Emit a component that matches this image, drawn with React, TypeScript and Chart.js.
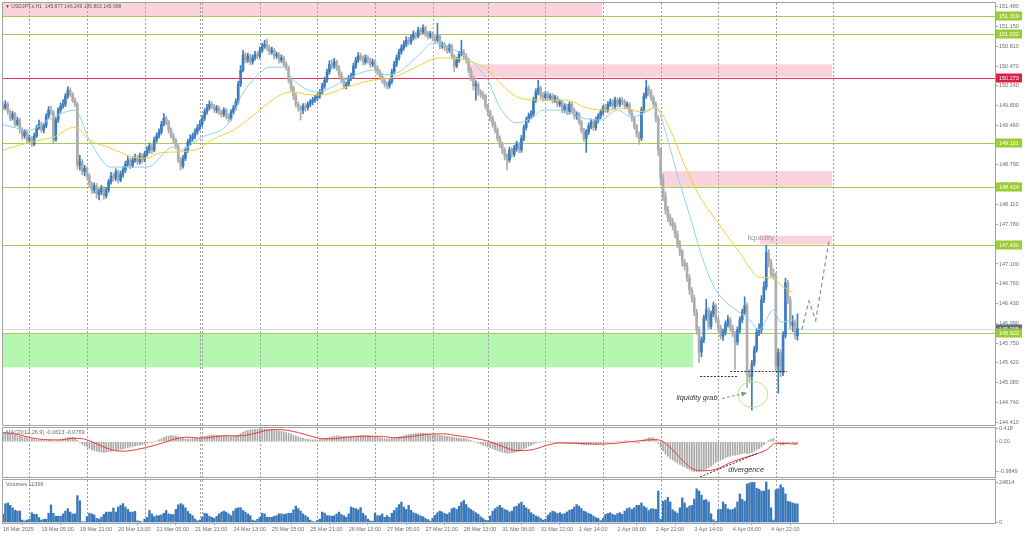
import React, { useEffect, useRef } from "react";
import { Chart, registerables } from "chart.js";

Chart.register(...registerables);

const FONT = "'Liberation Sans', Arial, Helvetica, sans-serif";
Chart.defaults.font.family = FONT;

// ---------------- texts ----------------
const symbolTitle = "\u25BC USDJPY.s,H1  145.877 146.249 145.803 145.998";
const macdTitle = "MACD(12,26,9) -0.0613 -0.0769";
const volumeTitle = "Volumes 11396";

// ---------------- price data (H1 bars, index = bar number) ----------------
const firstOpen = 149.8;
const closes = [
  149.76, 149.82, 149.69, 149.58, 149.65, 149.48, 149.55, 149.38, 149.28, 149.35,
  149.21, 149.24, 149.14, 149.28, 149.42, 149.48, 149.38, 149.45, 149.62, 149.72,
  149.69, 149.21, 149.55, 149.72, 149.79, 149.82, 149.96, 150.06, 149.99, 149.89,
  149.82, 148.78, 148.84, 148.67, 148.73, 148.60, 148.46, 148.36, 148.43, 148.29,
  148.33, 148.39, 148.26, 148.36, 148.50, 148.60, 148.56, 148.67, 148.53, 148.63,
  148.70, 148.80, 148.87, 148.77, 148.87, 148.90, 148.84, 148.94, 148.87, 148.97,
  149.04, 149.11, 149.04, 149.21, 149.28, 149.35, 149.48, 149.58, 149.52, 149.38,
  149.28, 149.21, 149.11, 148.87, 148.77, 148.90, 149.04, 149.18, 149.24, 149.28,
  149.35, 149.42, 149.48, 149.58, 149.69, 149.76, 149.82, 149.79, 149.72, 149.76,
  149.69, 149.65, 149.72, 149.62, 149.58, 149.69, 149.76, 149.86, 150.16, 150.40,
  150.66, 150.57, 150.64, 150.54, 150.61, 150.67, 150.64, 150.74, 150.81, 150.84,
  150.78, 150.71, 150.74, 150.64, 150.67, 150.57, 150.61, 150.50, 150.44, 150.23,
  150.10, 149.96, 149.82, 149.76, 149.72, 149.79, 149.76, 149.82, 149.86, 149.89,
  149.93, 149.96, 150.03, 150.13, 150.23, 150.37, 150.50, 150.47, 150.54, 150.44,
  150.33, 150.23, 150.13, 150.16, 150.27, 150.30, 150.47, 150.57, 150.64, 150.61,
  150.54, 150.61, 150.57, 150.50, 150.54, 150.44, 150.37, 150.30, 150.23, 150.16,
  150.13, 150.20, 150.37, 150.50, 150.61, 150.71, 150.78, 150.84, 150.91, 150.88,
  150.95, 151.02, 150.98, 151.08, 151.05, 151.12, 151.02, 150.98, 151.02, 150.95,
  150.91, 150.98, 150.81, 150.84, 150.78, 150.74, 150.81, 150.64, 150.47, 150.57,
  150.67, 150.71, 150.64, 150.57, 150.40, 150.27, 150.13, 150.16, 150.03, 149.99,
  149.96, 149.79, 149.69, 149.58, 149.48, 149.38, 149.24, 149.14, 149.04, 148.94,
  148.87, 149.04, 148.97, 149.07, 149.14, 149.04, 149.24, 149.42, 149.55, 149.62,
  149.65, 149.89, 150.03, 150.10, 149.96, 149.93, 149.99, 149.93, 149.96, 149.89,
  149.93, 149.82, 149.86, 149.72, 149.79, 149.69, 149.82, 149.72, 149.62, 149.65,
  149.52, 149.38, 149.24, 149.35, 149.45, 149.52, 149.42, 149.55, 149.62, 149.69,
  149.76, 149.72, 149.82, 149.86, 149.79, 149.89, 149.82, 149.89, 149.86, 149.79,
  149.82, 149.69, 149.58, 149.45, 149.31, 149.24, 149.72, 149.96, 150.10, 150.03,
  149.93, 149.82, 149.58, 149.04, 148.56, 148.26, 148.02, 147.89, 147.82, 147.75,
  147.61, 147.44, 147.31, 147.13, 147.07, 146.86, 146.66, 146.52, 146.28, 145.98,
  145.60, 145.81, 146.18, 146.32, 146.04, 146.25, 146.39, 146.15, 146.01, 145.87,
  145.94, 146.08, 146.15, 146.01, 145.91, 145.77, 145.98, 146.15, 146.28, 146.39,
  145.22, 145.18, 145.41, 145.64, 145.94, 145.98, 146.49, 146.71, 147.29, 147.13,
  146.93, 146.90, 145.36, 145.59, 145.25, 145.89, 146.78, 146.49, 146.06, 146.10, 145.877, 145.998,
];
const highs = [
  149.86, 149.88, 149.85, 149.72, 149.70, 149.68, 149.60, 149.58, 149.42, 149.39,
  149.37, 149.30, 149.27, 149.33, 149.46, 149.55, 149.52, 149.49, 149.66, 149.78,
  149.79, 149.71, 149.59, 149.76, 149.84, 149.90, 150.00, 150.12, 150.10, 150.02,
  149.93, 149.85, 148.95, 148.88, 148.78, 148.76, 148.64, 148.50, 148.48, 148.47,
  148.38, 148.44, 148.42, 148.40, 148.54, 148.66, 148.65, 148.72, 148.70, 148.68,
  148.76, 148.85, 148.93, 148.90, 148.92, 148.97, 148.95, 148.99, 148.98, 149.02,
  149.10, 149.16, 149.14, 149.26, 149.33, 149.40, 149.53, 149.66, 149.62, 149.55,
  149.42, 149.33, 149.24, 149.14, 148.92, 148.95, 149.08, 149.22, 149.30, 149.33,
  149.40, 149.47, 149.54, 149.63, 149.74, 149.82, 149.88, 149.86, 149.82, 149.80,
  149.79, 149.72, 149.76, 149.75, 149.66, 149.73, 149.80, 149.91, 150.21, 150.48,
  150.74, 150.70, 150.69, 150.67, 150.66, 150.72, 150.71, 150.79, 150.86, 150.91,
  150.93, 150.82, 150.79, 150.77, 150.71, 150.70, 150.66, 150.64, 150.54, 150.47,
  150.26, 150.13, 150.00, 149.86, 149.80, 149.83, 149.84, 149.86, 149.90, 149.94,
  149.97, 150.00, 150.07, 150.18, 150.28, 150.42, 150.56, 150.58, 150.60, 150.57,
  150.48, 150.37, 150.27, 150.20, 150.31, 150.35, 150.52, 150.62, 150.70, 150.69,
  150.65, 150.66, 150.65, 150.61, 150.59, 150.57, 150.48, 150.41, 150.34, 150.27,
  150.20, 150.25, 150.42, 150.55, 150.66, 150.76, 150.83, 150.90, 150.97, 150.96,
  151.00, 151.07, 151.05, 151.13, 151.12, 151.17, 151.15, 151.06, 151.06, 151.05,
  150.99, 151.20, 151.01, 150.88, 150.87, 150.82, 150.85, 150.84, 150.67, 150.62,
  150.72, 150.91, 150.75, 150.68, 150.60, 150.44, 150.31, 150.22, 150.19, 150.07,
  150.04, 149.99, 149.82, 149.72, 149.62, 149.52, 149.42, 149.28, 149.18, 149.08,
  148.98, 149.09, 149.08, 149.12, 149.19, 149.17, 149.29, 149.47, 149.60, 149.67,
  149.71, 149.94, 150.08, 150.23, 150.13, 150.02, 150.04, 150.03, 150.00, 150.00,
  149.97, 149.96, 149.90, 149.89, 149.83, 149.82, 149.86, 149.85, 149.76, 149.69,
  149.68, 149.55, 149.41, 149.39, 149.50, 149.57, 149.56, 149.60, 149.66, 149.73,
  149.80, 149.82, 149.86, 149.91, 149.90, 149.94, 149.93, 149.93, 149.94, 149.90,
  149.86, 149.85, 149.72, 149.62, 149.48, 149.35, 149.77, 150.01, 150.23, 150.14,
  150.07, 149.97, 149.86, 149.62, 149.08, 148.62, 148.33, 148.08, 147.95, 147.88,
  147.80, 147.66, 147.50, 147.35, 147.18, 147.12, 146.92, 146.70, 146.57, 146.33,
  146.03, 145.86, 146.23, 146.50, 146.36, 146.30, 146.45, 146.42, 146.20, 146.06,
  145.99, 146.13, 146.22, 146.19, 146.06, 145.95, 146.03, 146.20, 146.33, 146.54,
  146.44, 145.30, 145.46, 145.70, 146.00, 146.08, 146.56, 146.80, 147.42, 147.35,
  147.18, 147.02, 146.95, 145.66, 145.64, 145.95, 146.86, 146.82, 146.55, 146.22, 146.15, 146.249,
];
const lows = [
  149.72, 149.73, 149.65, 149.54, 149.55, 149.44, 149.45, 149.33, 149.22, 149.24,
  149.15, 149.17, 149.10, 149.11, 149.25, 149.39, 149.34, 149.33, 149.42, 149.58,
  149.64, 149.15, 149.19, 149.51, 149.68, 149.75, 149.78, 149.92, 149.95, 149.85,
  149.78, 148.72, 148.70, 148.62, 148.60, 148.55, 148.40, 148.30, 148.31, 148.22,
  148.19, 148.28, 148.20, 148.22, 148.32, 148.46, 148.51, 148.52, 148.48, 148.50,
  148.58, 148.66, 148.76, 148.72, 148.74, 148.83, 148.79, 148.80, 148.82, 148.84,
  148.93, 148.99, 148.98, 149.01, 149.17, 149.24, 149.31, 149.45, 149.47, 149.33,
  149.24, 149.16, 149.06, 148.83, 148.70, 148.73, 148.86, 149.00, 149.13, 149.19,
  149.23, 149.31, 149.38, 149.44, 149.54, 149.65, 149.72, 149.74, 149.68, 149.67,
  149.64, 149.60, 149.61, 149.57, 149.52, 149.55, 149.65, 149.72, 149.82, 150.12,
  150.37, 150.52, 150.53, 150.49, 150.50, 150.57, 150.59, 150.60, 150.70, 150.77,
  150.73, 150.66, 150.67, 150.59, 150.60, 150.52, 150.53, 150.46, 150.40, 150.18,
  150.04, 149.90, 149.77, 149.70, 149.55, 149.66, 149.70, 149.72, 149.78, 149.81,
  149.85, 149.88, 149.92, 149.99, 150.09, 150.19, 150.33, 150.42, 150.43, 150.39,
  150.28, 150.18, 150.08, 150.08, 150.12, 150.22, 150.26, 150.43, 150.53, 150.56,
  150.49, 150.50, 150.52, 150.45, 150.46, 150.39, 150.32, 150.25, 150.18, 150.11,
  150.08, 150.09, 150.17, 150.33, 150.46, 150.57, 150.67, 150.74, 150.80, 150.83,
  150.84, 150.91, 150.93, 150.95, 151.00, 151.02, 150.97, 150.93, 150.94, 150.90,
  150.86, 150.88, 150.76, 150.77, 150.73, 150.69, 150.70, 150.59, 150.37, 150.44,
  150.53, 150.64, 150.59, 150.52, 150.35, 150.22, 150.06, 149.89, 149.97, 149.93,
  149.90, 149.74, 149.63, 149.53, 149.43, 149.33, 149.19, 149.08, 148.98, 148.87,
  148.70, 148.83, 148.92, 148.93, 149.02, 148.99, 149.00, 149.20, 149.38, 149.51,
  149.57, 149.61, 149.85, 149.98, 149.91, 149.87, 149.88, 149.88, 149.89, 149.84,
  149.85, 149.77, 149.78, 149.67, 149.68, 149.64, 149.65, 149.67, 149.57, 149.56,
  149.47, 149.33, 149.19, 149.00, 149.30, 149.40, 149.37, 149.38, 149.50, 149.57,
  149.64, 149.68, 149.68, 149.78, 149.74, 149.75, 149.77, 149.78, 149.81, 149.74,
  149.75, 149.64, 149.53, 149.40, 149.26, 149.14, 149.20, 149.68, 149.92, 149.97,
  149.88, 149.77, 149.52, 148.95, 148.45, 148.18, 147.95, 147.82, 147.75, 147.68,
  147.55, 147.38, 147.24, 147.06, 147.00, 146.80, 146.58, 146.45, 146.22, 145.90,
  145.42, 145.52, 145.76, 146.14, 145.99, 146.00, 146.20, 146.10, 145.95, 145.82,
  145.80, 145.89, 146.03, 145.96, 145.86, 145.30, 145.72, 145.93, 146.10, 146.24,
  145.00, 145.08, 144.61, 145.36, 145.60, 145.88, 145.92, 146.44, 146.66, 147.05,
  146.88, 146.84, 145.28, 144.90, 145.18, 145.20, 145.84, 146.42, 146.00, 145.95, 145.82, 145.803,
];
const volumes = [
  5000, 11500, 12000, 10500, 9000, 7500, 7000, 7000, 1500, 1000,
  1500, 2000, 6000, 5000, 5000, 3000, 1500, 2000, 2000, 5700,
  10800, 5700, 3800, 3800, 3800, 5300, 7000, 8500, 6400, 5300,
  5300, 16500, 13300, 500, 500, 3600, 5700, 5300, 4700, 2500,
  2100, 3200, 4900, 6400, 6400, 6400, 8900, 6400, 9500, 10600,
  11600, 9500, 8000, 6400, 6400, 6800, 1000, 800, 300, 2100,
  3100, 7400, 5300, 3600, 4200, 4200, 4700, 5700, 7400, 5300,
  4900, 4900, 8000, 10800, 11600, 10800, 9000, 6800, 5300, 4200,
  2100, 1000, 1500, 3200, 5700, 5300, 3800, 3200, 2500, 3800,
  5300, 6400, 7000, 6400, 5300, 4200, 7000, 8500, 9000, 9100,
  7400, 6400, 5300, 4200, 1500, 1000, 2000, 3200, 5700, 5300,
  3200, 3200, 3200, 3800, 4200, 5300, 5300, 4900, 5300, 5700,
  5700, 7800, 10000, 8500, 7000, 5300, 4200, 3200, 1500, 600,
  300, 1500, 2100, 6400, 5700, 4200, 4200, 3800, 4200, 5300,
  6400, 4900, 4200, 3200, 5300, 9500, 8900, 8500, 7800, 9100,
  5700, 4200, 2100, 1000, 800, 5700, 4200, 4200, 5300, 3200,
  4200, 3200, 5700, 7400, 9000, 11000, 12500, 9500, 8000, 10500,
  7500, 6000, 5500, 4800, 4000, 3500, 2500, 1800, 900, 2500,
  4500, 6000, 7000, 6500, 5500, 5000, 6000, 8500, 9000, 8000,
  10000, 12500, 13500, 11000, 9000, 8000, 7000, 6000, 5000, 3500,
  2500, 1500, 1200, 4000, 7000, 8500, 9500, 10500, 9000, 8000,
  7500, 6500, 7000, 9500, 10000, 11500, 12500, 10500, 9000, 8000,
  6000, 5000, 4000, 3500, 2500, 1500, 2000, 4500, 6000, 7000,
  6500, 5500, 6000, 5000, 5500, 6500, 7500, 8000, 9500, 11000,
  10000, 8500, 7000, 6500, 5500, 5000, 4000, 3000, 2500, 1200,
  2500, 5000, 5500, 6000, 5000, 4500, 5500, 6000, 5000, 7000,
  8500, 9000, 8000, 9000, 10500, 10500, 12000, 9900, 9000, 7400,
  8400, 8400, 8000, 19300, 2100, 13000, 13700, 15400, 12600, 7800,
  6700, 5700, 9000, 15100, 12000, 9000, 10100, 10500, 14300, 20600,
  19300, 16800, 13700, 14000, 12600, 5300, 1700, 800, 7800, 8000,
  12600, 11100, 8400, 7800, 8000, 9000, 12600, 17500, 14100, 13000,
  23600, 24200, 24600, 24500, 21000, 20400, 19300, 19300, 24814, 20000,
  9000, 1500, 20000, 20600, 23100, 21400, 17500, 13000, 12600, 12000, 11500, 11396,
];
const macdMain = [
  0.30, 0.29, 0.27, 0.26, 0.24, 0.22, 0.20, 0.18, 0.16,
  0.14, 0.12, 0.10, 0.08, 0.07, 0.06, 0.05, 0.05, 0.04, 0.04, 0.05, 0.06,
  0.02, 0.03, 0.05, 0.07, 0.09,
  0.11, 0.13, 0.15, 0.15, 0.14, 0.05,
  -0.02, -0.08, -0.13, -0.18, -0.22, -0.26, -0.29, -0.31, -0.33, -0.34, -0.35, -0.34, -0.33, -0.32,
  -0.30, -0.28, -0.27, -0.25, -0.23, -0.21, -0.19, -0.17, -0.15, -0.14, -0.12, -0.11, -0.09,
  -0.07, -0.05, -0.03, -0.02, 0.00, 0.03, 0.06, 0.10,
  0.14, 0.17, 0.19, 0.20, 0.20, 0.19, 0.16, 0.12,
  0.10, 0.09, 0.09, 0.09, 0.10, 0.11, 0.12, 0.13, 0.15, 0.17,
  0.19, 0.21, 0.22, 0.22, 0.22, 0.21, 0.20, 0.19, 0.18, 0.17, 0.17, 0.18, 0.19,
  0.22, 0.27, 0.32, 0.35, 0.37, 0.39, 0.40, 0.41, 0.41, 0.42, 0.42, 0.42, 0.41,
  0.40, 0.39, 0.38, 0.37, 0.35, 0.34, 0.32, 0.30, 0.28, 0.25, 0.22, 0.19, 0.16, 0.13,
  0.11, 0.09, 0.08, 0.07, 0.06, 0.06, 0.06, 0.07, 0.08, 0.10, 0.12, 0.14, 0.16, 0.18, 0.19, 0.19,
  0.18, 0.17, 0.16, 0.16, 0.16, 0.17, 0.18, 0.19, 0.20, 0.20, 0.20, 0.20, 0.19, 0.18, 0.17, 0.16, 0.14, 0.12, 0.10, 0.09,
  0.09, 0.10, 0.12, 0.14, 0.16, 0.18, 0.20, 0.22, 0.24, 0.25, 0.26, 0.27, 0.28, 0.28, 0.28, 0.27, 0.26, 0.25, 0.24, 0.23, 0.22, 0.21, 0.20, 0.19, 0.18,
  0.17, 0.16, 0.14, 0.13, 0.12, 0.11, 0.10, 0.09, 0.07, 0.04, 0.01, -0.02, -0.05, -0.08, -0.11,
  -0.14, -0.17, -0.20, -0.23, -0.26, -0.29, -0.32, -0.34, -0.36, -0.37, -0.37, -0.36, -0.35, -0.33, -0.31,
  -0.27, -0.23, -0.19, -0.15, -0.11, -0.07, -0.04, -0.02, -0.01, 0.00, 0.00, 0.00, -0.01, -0.01, -0.02,
  -0.03, -0.03, -0.04, -0.04, -0.05, -0.05, -0.05, -0.06, -0.07, -0.08, -0.09, -0.10, -0.10, -0.10, -0.09, -0.09, -0.08, -0.07, -0.06, -0.05,
  -0.04, -0.03, -0.02, -0.01, 0.00, 0.01, 0.02, 0.02, 0.03, 0.03, 0.02, 0.01, -0.01, -0.03, -0.04,
  0.02, 0.06, 0.10, 0.13, 0.14, 0.13,
  0.08, -0.05, -0.18, -0.30, -0.40, -0.48, -0.55, -0.60, -0.65, -0.70, -0.74, -0.79, -0.83, -0.87, -0.91, -0.95, -0.9849, -0.98, -0.97,
  -0.96, -0.94, -0.90, -0.85, -0.80, -0.74, -0.68, -0.64, -0.60, -0.56, -0.52, -0.49, -0.47, -0.45, -0.44, -0.42, -0.41, -0.39, -0.37, -0.38,
  -0.38, -0.35, -0.31, -0.27, -0.23, -0.17, -0.10, -0.02, 0.04, 0.08, 0.10,
  0.02, -0.07, -0.10, -0.10, -0.08, -0.04, -0.03, -0.05, -0.08, -0.06,
];
const signalIdx = [0, 6, 11, 17, 23, 29, 33, 37, 42, 46, 50, 56, 62, 67, 72, 77, 82, 88, 93, 98, 103, 108, 113, 118, 123, 128, 133, 138, 143, 150, 157, 163, 170, 176, 183, 190, 196, 202, 208, 214, 220, 226, 232, 240, 247, 254, 260, 265, 271, 274, 279, 283, 287, 292, 297, 304, 311, 318, 322, 326, 331];
const signalVal = [0.30, 0.24, 0.14, 0.07, 0.06, 0.11, 0.10, 0.00, -0.17, -0.28, -0.31, -0.25, -0.14, -0.03, 0.10, 0.15, 0.12, 0.16, 0.20, 0.19, 0.24, 0.34, 0.40, 0.38, 0.30, 0.19, 0.10, 0.10, 0.15, 0.18, 0.18, 0.13, 0.17, 0.24, 0.26, 0.19, 0.12, 0.02, -0.15, -0.29, -0.27, -0.13, -0.04, -0.05, -0.08, -0.06, -0.01, 0.03, 0.07, 0.04, -0.27, -0.60, -0.87, -0.95, -0.90, -0.65, -0.47, -0.27, -0.05, -0.06, -0.077];
const maFastIdx = [0, 11, 20, 30, 36, 45, 60, 71, 74, 82, 95, 99, 107, 111, 117, 121, 131, 137, 145, 154, 160, 165, 174, 179, 186, 193, 202, 207, 214, 221, 225, 232, 242, 249, 256, 262, 268, 272, 277, 281, 286, 292, 297, 307, 311, 315, 321, 324, 329];
const maFastVal = [149.47, 149.38, 149.58, 149.72, 149.21, 148.75, 148.75, 149.09, 149.04, 149.24, 149.55, 149.94, 150.35, 150.45, 150.45, 150.23, 150.03, 150.11, 150.28, 150.40, 150.32, 150.37, 150.69, 150.86, 150.78, 150.62, 150.23, 149.77, 149.50, 149.60, 149.72, 149.72, 149.58, 149.55, 149.72, 149.60, 149.69, 149.76, 149.21, 148.61, 147.94, 147.13, 146.66, 146.27, 146.15, 145.98, 146.32, 146.11, 146.15];
const maSlowIdx = [0, 12, 21, 30, 36, 45, 54, 60, 65, 74, 82, 87, 96, 107, 114, 120, 128, 133, 143, 154, 162, 172, 182, 193, 202, 207, 215, 224, 235, 243, 252, 260, 265, 272, 278, 284, 290, 297, 307, 315, 321, 325, 329];
const maSlowVal = [149.04, 149.18, 149.26, 149.43, 149.21, 149.07, 148.92, 148.90, 148.99, 149.01, 149.07, 149.21, 149.38, 149.72, 149.94, 150.03, 149.98, 149.98, 150.11, 150.23, 150.27, 150.45, 150.61, 150.57, 150.40, 150.18, 149.93, 149.89, 149.89, 149.76, 149.72, 149.76, 149.69, 149.76, 149.38, 148.78, 148.27, 147.85, 147.29, 146.88, 146.86, 146.71, 146.62];
const projIdx = [332.8, 335.8, 338.6, 344.2];
const projVal = [145.98, 146.47, 146.14, 147.51];

// ---------------- axes / ticks ----------------
const timeLabelIdx = [0, 16, 32, 48, 64, 80, 96, 112, 128, 144, 160, 176, 192, 208, 224, 240, 256, 272, 288, 304, 320];
const timeLabels = ["18 Mar 2025", "19 Mar 05:00", "19 Mar 21:00", "20 Mar 13:00", "21 Mar 05:00", "21 Mar 21:00", "24 Mar 13:00", "25 Mar 05:00", "25 Mar 21:00", "26 Mar 13:00", "27 Mar 05:00", "27 Mar 21:00", "28 Mar 13:00", "31 Mar 06:00", "31 Mar 22:00", "1 Apr 14:00", "2 Apr 06:00", "2 Apr 22:00", "3 Apr 14:00", "4 Apr 06:00", "4 Apr 22:00"];
const daySeparatorIdx = [11, 35, 59, 82, 83, 107, 131, 155, 179, 202, 226, 250, 274, 298, 322, 346];
const priceTicks = [151.48, 151.15, 150.81, 150.47, 150.14, 149.8, 149.46, 149.12, 148.79, 148.45, 148.11, 147.78, 147.44, 147.1, 146.76, 146.43, 146.09, 145.75, 145.42, 145.08, 144.74, 144.41];
const macdTicks = [0.418, 0, -0.9849];
const volumeTicks = [24814, 0];

// ---------------- drawn levels & zones (bar index / price units) ----------------
const levelPrices = [151.319, 151.022, 150.273, 149.161, 148.414, 147.43, 145.923];
const levelIsRed = [false, false, true, false, false, false, false];
const currentPrice = 145.998;
const zoneFrom = [0, 193.8, 273.75, 315.4, 0];
const zoneTo = [249.6, 345.4, 345.4, 345.4, 287.4];
const zoneHigh = [151.6, 150.5, 148.68, 147.58, 145.923];
const zoneLow = [151.319, 150.28, 148.414, 147.435, 145.34];
const zoneIsDemand = [false, false, false, false, true];
const sweepFrom = [290.4, 303.0];
const sweepTo = [305.8, 326.7];
const sweepPrice = [145.2, 145.28];

const X_MIN = 0;
const X_MAX = 413.3;

const STYLE = {
  bull: "#3d7cbd",
  bear: "#acacac",
  maFast: "#8fd0f3",
  maSlow: "#f2cf3e",
  level: "#a5ce4c",
  levelRed: "#e0365a",
  levelBox: "#9acd32",
  levelBoxRed: "#dc1f45",
  curLine: "#d8d8f0",
  curBox: "#5f6f85",
  pink: "#fbd3dc",
  green: "#b4f6b0",
  sep: "#a0a0a0",
  frame: "#a3a3a3",
  tick: "#6f6f6f",
  vol: "#3a78b9",
  hist: "#a8a8a8",
  signal: "#ee3a3a",
  proj: "#7f90b0",
  note: "#333333",
  noteLight: "#9a9a9a",
  circle: "#c5e08a",
};

function drawSeparators(chart: any) {
  const { ctx, chartArea: a } = chart;
  const xs = chart.scales.x;
  ctx.save();
  ctx.strokeStyle = STYLE.sep;
  ctx.lineWidth = 1;
  ctx.setLineDash([2, 2]);
  daySeparatorIdx.forEach((v) => {
    const px = Math.round(xs.getPixelForValue(v)) + 0.5;
    if (px < a.left || px > a.right) return;
    ctx.beginPath();
    ctx.moveTo(px, a.top);
    ctx.lineTo(px, a.bottom);
    ctx.stroke();
  });
  ctx.restore();
}

function drawFrame(chart: any) {
  const { ctx, chartArea: a } = chart;
  ctx.save();
  ctx.strokeStyle = STYLE.frame;
  ctx.lineWidth = 1;
  ctx.strokeRect(a.left - 0.5, a.top - 0.5, a.right - a.left + 1, a.bottom - a.top + 1);
  ctx.restore();
}

function panelTitle(chart: any, text: string) {
  const { ctx, chartArea: a } = chart;
  ctx.save();
  ctx.fillStyle = "#6a6a6a";
  ctx.font = `5.5px ${FONT}`;
  ctx.textBaseline = "middle";
  ctx.textAlign = "left";
  ctx.fillText(text, a.left + 3, a.top + 4);
  ctx.restore();
}

function priceBox(ctx: any, x: number, y: number, text: string, bg: string) {
  const yy = Math.round(y);
  ctx.fillStyle = bg;
  ctx.fillRect(x, yy - 4.5, 26, 9);
  ctx.fillStyle = "#ffffff";
  ctx.font = `5.5px ${FONT}`;
  ctx.textBaseline = "middle";
  ctx.textAlign = "left";
  ctx.fillText(text, x + 3, yy);
}

function rightAxis(width: number, ticks: number[], fmt: (v: number) => string, min: number, max: number) {
  return {
    type: "linear",
    position: "right",
    min,
    max,
    afterFit: (s: any) => {
      s.width = width;
      s.paddingTop = 0;
      s.paddingBottom = 0;
    },
    afterBuildTicks: (s: any) => {
      s.ticks = ticks.map((v) => ({ value: v }));
    },
    ticks: {
      autoSkip: false,
      callback: (v: any) => fmt(Number(v)),
      font: { size: 5.5, family: FONT },
      color: STYLE.tick,
      padding: 1,
    },
    grid: { display: true, drawOnChartArea: false, drawTicks: true, tickLength: 3, color: STYLE.frame },
    border: { display: true, color: STYLE.frame },
  };
}

const hiddenX = { type: "linear", min: X_MIN, max: X_MAX, display: false, offset: false };

export default function App() {
  const mainRef = useRef<HTMLCanvasElement>(null);
  const macdRef = useRef<HTMLCanvasElement>(null);
  const volRef = useRef<HTMLCanvasElement>(null);

  useEffect(() => {
    const charts: any[] = [];
    const N = closes.length;

    const bodies: any[] = [];
    const wicks: any[] = [];
    const candleColors: string[] = [];
    for (let i = 0; i < N; i++) {
      const o = i === 0 ? firstOpen : closes[i - 1];
      const c = closes[i];
      const h = Math.max(highs[i] ?? c, o, c);
      const l = Math.min(lows[i] ?? c, o, c);
      bodies.push({ x: i, y: [o, c] });
      wicks.push({ x: i, y: [l, h] });
      candleColors.push(c >= o ? STYLE.bull : STYLE.bear);
    }

    const common = {
      responsive: false,
      animation: false,
      devicePixelRatio: 1,
      events: [],
      plugins: { legend: { display: false }, tooltip: { enabled: false } },
    };

    // ---------- main price chart ----------
    const mainPlugin = {
      id: "mainDecor",
      beforeDatasetsDraw(chart: any) {
        const { ctx, chartArea: a } = chart;
        const xs = chart.scales.x;
        const ys = chart.scales.y;
        ctx.save();
        ctx.beginPath();
        ctx.rect(a.left, a.top, a.right - a.left, a.bottom - a.top);
        ctx.clip();
        for (let k = 0; k < zoneFrom.length; k++) {
          const x0 = xs.getPixelForValue(zoneFrom[k]);
          const x1 = xs.getPixelForValue(zoneTo[k]);
          const y0 = ys.getPixelForValue(zoneHigh[k]);
          const y1 = ys.getPixelForValue(zoneLow[k]);
          ctx.fillStyle = zoneIsDemand[k] ? STYLE.green : STYLE.pink;
          ctx.fillRect(x0, y0, x1 - x0, y1 - y0);
        }
        const cy = Math.round(ys.getPixelForValue(currentPrice)) + 0.5;
        ctx.strokeStyle = STYLE.curLine;
        ctx.lineWidth = 1;
        ctx.beginPath();
        ctx.moveTo(a.left, cy);
        ctx.lineTo(a.right, cy);
        ctx.stroke();
        levelPrices.forEach((p, k) => {
          const y = Math.round(ys.getPixelForValue(p)) + 0.5;
          ctx.strokeStyle = levelIsRed[k] ? STYLE.levelRed : STYLE.level;
          ctx.beginPath();
          ctx.moveTo(a.left, y);
          ctx.lineTo(a.right, y);
          ctx.stroke();
        });
        ctx.restore();
        drawSeparators(chart);
      },
      afterDatasetsDraw(chart: any) {
        const { ctx } = chart;
        const xs = chart.scales.x;
        const ys = chart.scales.y;
        const X = (v: number) => xs.getPixelForValue(v);
        const Y = (v: number) => ys.getPixelForValue(v);
        ctx.save();
        // sweep levels
        ctx.strokeStyle = STYLE.note;
        ctx.lineWidth = 1;
        ctx.setLineDash([2, 1.5]);
        for (let k = 0; k < sweepFrom.length; k++) {
          const y = Math.round(Y(sweepPrice[k])) + 0.5;
          ctx.beginPath();
          ctx.moveTo(X(sweepFrom[k]), y);
          ctx.lineTo(X(sweepTo[k]), y);
          ctx.stroke();
        }
        // circle around the grab
        ctx.setLineDash([]);
        ctx.strokeStyle = STYLE.circle;
        ctx.beginPath();
        ctx.ellipse(X(312.4), Y(144.88), 15, 13, 0, 0, Math.PI * 2);
        ctx.stroke();
        // arrow
        const ax0 = X(299.6), ay0 = Y(144.81), ax1 = X(309.3), ay1 = Y(144.9);
        ctx.strokeStyle = STYLE.proj;
        ctx.setLineDash([3, 2]);
        ctx.beginPath();
        ctx.moveTo(ax0, ay0);
        ctx.lineTo(ax1, ay1);
        ctx.stroke();
        ctx.setLineDash([]);
        const ang = Math.atan2(ay1 - ay0, ax1 - ax0);
        ctx.fillStyle = STYLE.proj;
        ctx.beginPath();
        ctx.moveTo(ax1 + 2, ay1 + 2 * Math.tan(ang));
        ctx.lineTo(ax1 - 4 * Math.cos(ang) + 2.5 * Math.sin(ang), ay1 - 4 * Math.sin(ang) - 2.5 * Math.cos(ang));
        ctx.lineTo(ax1 - 4 * Math.cos(ang) - 2.5 * Math.sin(ang), ay1 - 4 * Math.sin(ang) + 2.5 * Math.cos(ang));
        ctx.closePath();
        ctx.fill();
        // texts
        ctx.textBaseline = "middle";
        ctx.textAlign = "left";
        ctx.fillStyle = STYLE.noteLight;
        ctx.font = `8px ${FONT}`;
        ctx.fillText("liquidity", X(310.2), Y(147.54));
        ctx.fillStyle = STYLE.note;
        ctx.font = `italic 7.3px ${FONT}`;
        ctx.fillText("liquidity grab", X(280.6), Y(144.82));
        ctx.restore();
      },
      afterDraw(chart: any) {
        const { ctx, chartArea: a } = chart;
        const ys = chart.scales.y;
        drawFrame(chart);
        ctx.save();
        priceBox(ctx, a.right + 1, ys.getPixelForValue(currentPrice), currentPrice.toFixed(3), STYLE.curBox);
        levelPrices.forEach((p, k) => {
          priceBox(ctx, a.right + 1, ys.getPixelForValue(p), p.toFixed(3), levelIsRed[k] ? STYLE.levelBoxRed : STYLE.levelBox);
        });
        ctx.fillStyle = "#5a5a5a";
        ctx.font = `5px ${FONT}`;
        ctx.textBaseline = "middle";
        ctx.textAlign = "left";
        ctx.fillText(symbolTitle, a.left + 2, a.top + 4);
        ctx.restore();
      },
    };

    if (mainRef.current) {
      charts.push(
        new Chart(mainRef.current, {
          type: "bar",
          data: {
            datasets: [
              {
                type: "line",
                data: maSlowIdx.map((x, k) => ({ x, y: maSlowVal[k] })),
                borderColor: STYLE.maSlow,
                borderWidth: 1,
                pointRadius: 0,
                cubicInterpolationMode: "monotone",
                order: 0,
              },
              {
                type: "line",
                data: maFastIdx.map((x, k) => ({ x, y: maFastVal[k] })),
                borderColor: STYLE.maFast,
                borderWidth: 1,
                pointRadius: 0,
                cubicInterpolationMode: "monotone",
                order: 0,
              },
              {
                type: "line",
                data: projIdx.map((x, k) => ({ x, y: projVal[k] })),
                borderColor: STYLE.proj,
                borderWidth: 1.2,
                borderDash: [4, 3],
                pointRadius: 0,
                order: 0,
              },
              {
                type: "bar",
                data: bodies,
                backgroundColor: candleColors,
                barThickness: 2,
                grouped: false,
                minBarLength: 1,
                order: 1,
              },
              {
                type: "bar",
                data: wicks,
                backgroundColor: candleColors,
                barThickness: 1,
                grouped: false,
                order: 2,
              },
            ],
          } as any,
          options: {
            ...common,
            layout: { padding: { left: 3, right: 0, top: 3, bottom: 1 } },
            scales: {
              x: hiddenX,
              y: rightAxis(29, priceTicks, (v) => v.toFixed(3), 144.359, 151.543),
            },
          } as any,
          plugins: [mainPlugin],
        })
      );
    }

    // ---------- MACD ----------
    const macdPlugin = {
      id: "macdDecor",
      beforeDatasetsDraw(chart: any) {
        drawSeparators(chart);
      },
      afterDatasetsDraw(chart: any) {
        const { ctx } = chart;
        const xs = chart.scales.x;
        const ys = chart.scales.y;
        ctx.save();
        ctx.strokeStyle = STYLE.note;
        ctx.lineWidth = 1;
        ctx.setLineDash([2, 1.5]);
        ctx.beginPath();
        ctx.moveTo(xs.getPixelForValue(290.5), ys.getPixelForValue(-1.15));
        ctx.lineTo(xs.getPixelForValue(314.6), ys.getPixelForValue(-0.37));
        ctx.stroke();
        ctx.setLineDash([]);
        ctx.fillStyle = STYLE.note;
        ctx.font = `italic 7.3px ${FONT}`;
        ctx.textBaseline = "middle";
        ctx.textAlign = "left";
        ctx.fillText("divergence", xs.getPixelForValue(302.2), ys.getPixelForValue(-0.92));
        ctx.restore();
      },
      afterDraw(chart: any) {
        drawFrame(chart);
        panelTitle(chart, macdTitle);
      },
    };
    if (macdRef.current) {
      charts.push(
        new Chart(macdRef.current, {
          type: "bar",
          data: {
            datasets: [
              {
                type: "line",
                data: signalIdx.map((x, k) => ({ x, y: signalVal[k] })),
                borderColor: STYLE.signal,
                borderWidth: 1,
                pointRadius: 0,
                cubicInterpolationMode: "monotone",
                order: 0,
              },
              {
                type: "bar",
                data: macdMain.map((v, i) => ({ x: i, y: v })),
                backgroundColor: STYLE.hist,
                barThickness: 1,
                grouped: false,
                order: 1,
              },
            ],
          } as any,
          options: {
            ...common,
            layout: { padding: { left: 3, right: 0, top: 2, bottom: 1 } },
            scales: {
              x: hiddenX,
              y: rightAxis(29, macdTicks, (v) => (v === 0 ? "0.00" : String(v)), -1.154, 0.45),
            },
          } as any,
          plugins: [macdPlugin],
        })
      );
    }

    // ---------- Volumes ----------
    const volPlugin = {
      id: "volDecor",
      beforeDatasetsDraw(chart: any) {
        drawSeparators(chart);
      },
      afterDraw(chart: any) {
        drawFrame(chart);
        panelTitle(chart, volumeTitle);
      },
    };
    if (volRef.current) {
      charts.push(
        new Chart(volRef.current, {
          type: "bar",
          data: {
            datasets: [
              {
                type: "bar",
                data: volumes.map((v, i) => ({ x: i, y: v })),
                backgroundColor: STYLE.vol,
                barThickness: 1.7,
                grouped: false,
              },
            ],
          } as any,
          options: {
            ...common,
            layout: { padding: { left: 3, right: 0, top: 2, bottom: 0 } },
            scales: {
              x: {
                type: "linear",
                min: X_MIN,
                max: X_MAX,
                offset: false,
                afterFit: (s: any) => {
                  s.height = 14;
                  s.paddingLeft = 0;
                  s.paddingRight = 0;
                },
                afterBuildTicks: (s: any) => {
                  s.ticks = timeLabelIdx.map((v) => ({ value: v }));
                },
                ticks: {
                  autoSkip: false,
                  maxRotation: 0,
                  minRotation: 0,
                  align: "start",
                  padding: 1,
                  font: { size: 5.5, family: FONT },
                  color: STYLE.tick,
                  callback: (v: any) => {
                    const k = timeLabelIdx.indexOf(Number(v));
                    return k >= 0 ? timeLabels[k] : "";
                  },
                },
                grid: { display: true, drawOnChartArea: false, drawTicks: true, tickLength: 2, color: STYLE.frame },
                border: { display: true, color: STYLE.frame },
              },
              y: rightAxis(29, volumeTicks, (v) => String(v), -300, 26040),
            },
          } as any,
          plugins: [volPlugin],
        })
      );
    }

    return () => {
      charts.forEach((c) => c.destroy());
    };
  }, []);

  return (
    <div
      style={{
        position: "fixed",
        left: 0,
        top: 0,
        width: 1024,
        height: 537,
        background: "#ffffff",
        overflow: "hidden",
      }}
    >
      <canvas ref={mainRef} width={1024} height={426} style={{ position: "absolute", left: 0, top: 0, width: 1024, height: 426 }} />
      <canvas ref={macdRef} width={1024} height={52} style={{ position: "absolute", left: 0, top: 426, width: 1024, height: 52 }} />
      <canvas ref={volRef} width={1024} height={59} style={{ position: "absolute", left: 0, top: 478, width: 1024, height: 59 }} />
    </div>
  );
}
